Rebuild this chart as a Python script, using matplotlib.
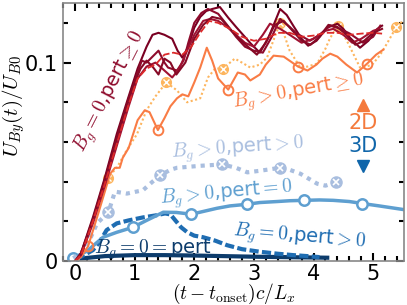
import numpy as np
import matplotlib
matplotlib.use("Agg")
import matplotlib.pyplot as plt
from matplotlib.ticker import MultipleLocator

plt.rcParams['mathtext.fontset'] = 'cm'
plt.rcParams['font.family'] = ['DejaVu Sans']

# ---- 2D, B_g = 0 runs (dark red bundle) ----
tA = [0, 0.1, 0.3, 0.5, 0.7, 0.9, 1.05, 1.2, 1.3, 1.4, 1.5, 1.63, 1.72, 1.8, 1.9, 2.0, 2.1, 2.2, 2.3, 2.43,
      2.57, 2.7, 2.8, 2.95, 3.1, 3.25, 3.44, 3.55, 3.66, 3.8, 3.91, 4.05, 4.23, 4.4, 4.5, 4.61, 4.78, 4.92, 5.07, 5.15]
yA = [0, 0.004, 0.022, 0.042, 0.064, 0.083, 0.097, 0.108, 0.114, 0.115, 0.114, 0.112, 0.106, 0.1025, 0.108,
      0.1176, 0.123, 0.126, 0.127, 0.128, 0.1226, 0.118, 0.1146, 0.1095, 0.105, 0.113, 0.127, 0.124, 0.1186,
      0.112, 0.1085, 0.111, 0.1176, 0.1196, 0.117, 0.1126, 0.1075, 0.111, 0.117, 0.1186]
tB = [0, 0.1, 0.3, 0.5, 0.7, 0.9, 1.05, 1.12, 1.2, 1.3, 1.4, 1.5, 1.56, 1.71, 1.82, 1.9, 2.0, 2.12, 2.23, 2.4,
      2.55, 2.7, 2.85, 3.0, 3.15, 3.3, 3.44, 3.6, 3.72, 3.94, 4.1, 4.28, 4.45, 4.61, 4.83, 5.0, 5.12]
yB = [0, 0.003, 0.020, 0.040, 0.061, 0.081, 0.095, 0.101, 0.100, 0.103, 0.106, 0.100, 0.0975, 0.096, 0.101,
      0.110, 0.120, 0.125, 0.127, 0.1246, 0.119, 0.113, 0.108, 0.106, 0.105, 0.113, 0.122, 0.118, 0.1146,
      0.111, 0.114, 0.1186, 0.117, 0.1146, 0.110, 0.113, 0.1186]
tC = [0, 0.1, 0.3, 0.5, 0.7, 0.9, 1.05, 1.2, 1.35, 1.5, 1.63, 1.75, 1.85, 2.0, 2.15, 2.27, 2.4, 2.55, 2.7,
      2.85, 3.0, 3.15, 3.27, 3.44, 3.6, 3.8, 4.0, 4.2, 4.33, 4.5, 4.65, 4.8, 5.0, 5.1]
yC = [0, 0.003, 0.019, 0.038, 0.058, 0.078, 0.092, 0.098, 0.100, 0.096, 0.0925, 0.097, 0.104, 0.114, 0.121,
      0.122, 0.121, 0.118, 0.114, 0.110, 0.108, 0.114, 0.1196, 0.117, 0.114, 0.110, 0.112, 0.116, 0.117,
      0.114, 0.110, 0.112, 0.116, 0.117]
tD = [0, 0.1, 0.3, 0.5, 0.7, 0.9, 1.0, 1.1, 1.2, 1.3, 1.4, 1.5, 1.6, 1.7, 1.85, 2.0, 2.15, 2.3, 2.45, 2.6,
      2.75, 2.9, 3.05, 3.2, 3.35, 3.5, 3.65, 3.8, 3.95, 4.1, 4.25, 4.4, 4.55, 4.7, 4.85, 5.0, 5.15]
yD = [0, 0.004, 0.021, 0.041, 0.062, 0.082, 0.090, 0.097, 0.101, 0.098, 0.094, 0.102, 0.100, 0.094, 0.100,
      0.112, 0.119, 0.123, 0.122, 0.117, 0.112, 0.108, 0.104, 0.110, 0.119, 0.121, 0.116, 0.111, 0.109,
      0.113, 0.119, 0.118, 0.114, 0.109, 0.111, 0.115, 0.117]
tE = [0, 0.1, 0.3, 0.5, 0.7, 0.9, 1.05, 1.2, 1.35, 1.5, 1.65, 1.8, 1.95, 2.1, 2.25, 2.4, 2.6, 2.8, 3.0, 3.2,
      3.4, 3.6, 3.8, 4.0, 4.2, 4.4, 4.6, 4.8, 5.0, 5.15]
yE = [0, 0.003, 0.020, 0.039, 0.059, 0.079, 0.092, 0.097, 0.099, 0.104, 0.105, 0.104, 0.108, 0.115, 0.121,
      0.120, 0.117, 0.113, 0.111, 0.112, 0.115, 0.115, 0.113, 0.1136, 0.115, 0.115, 0.114, 0.1146, 0.115, 0.1146]

# ---- 2D, B_g > 0 runs ----
t_or = [0, 0.1, 0.22, 0.4, 0.59, 0.67, 0.75, 0.8, 0.9, 1.05, 1.17, 1.25, 1.39, 1.5, 1.6, 1.71, 1.8, 1.9, 2.0,
        2.1, 2.21, 2.3, 2.4, 2.57, 2.73, 2.85, 2.94, 3.1, 3.2, 3.33, 3.5, 3.74, 3.9, 4.05, 4.15, 4.28, 4.4,
        4.55, 4.73, 4.9, 5.05, 5.17]
y_or = [0, 0.002, 0.0075, 0.025, 0.044, 0.047, 0.047, 0.052, 0.057, 0.071, 0.076, 0.075, 0.066, 0.072, 0.078,
        0.082, 0.084, 0.083, 0.090, 0.0975, 0.1075, 0.101, 0.092, 0.0864, 0.095, 0.094, 0.091, 0.094, 0.099,
        0.1035, 0.103, 0.098, 0.096, 0.099, 0.102, 0.1045, 0.103, 0.099, 0.095, 0.0995, 0.104, 0.1065]
t_or_m = [0.22, 1.39, 2.57, 3.74, 4.9]
y_or_m = [0.0075, 0.066, 0.0864, 0.098, 0.0995]

t_lo = [0.05, 0.2, 0.4, 0.55, 0.7, 0.85, 1.04, 1.2, 1.35, 1.53, 1.71, 1.88, 2.1, 2.23, 2.35, 2.48, 2.68, 2.8,
        2.94, 3.1, 3.22, 3.35, 3.44, 3.6, 3.78, 3.9, 4.06, 4.2, 4.28, 4.41, 4.56, 4.78, 4.9, 5.0, 5.12, 5.23,
        5.39, 5.5]
y_lo = [0, 0.012, 0.028, 0.042, 0.047, 0.055, 0.064, 0.076, 0.083, 0.090, 0.086, 0.080, 0.082, 0.0925, 0.097,
        0.097, 0.102, 0.100, 0.0975, 0.099, 0.1025, 0.113, 0.120, 0.106, 0.0975, 0.098, 0.0995, 0.107, 0.1125,
        0.1186, 0.111, 0.0975, 0.098, 0.0995, 0.104, 0.1095, 0.118, 0.121]
t_lo_m = [0.55, 1.53, 2.48, 3.44, 4.41, 5.39]
y_lo_m = [0.042, 0.090, 0.097, 0.120, 0.1186, 0.118]

# ---- 3D runs ----
t_lb = [-0.03, 0.1, 0.25, 0.37, 0.56, 0.67, 0.87, 1.14, 1.3, 1.43, 1.6, 1.71, 2.1, 2.47, 2.7, 2.89, 3.1, 3.44,
        3.6, 3.78, 4.06, 4.2, 4.38]
y_lb = [0.0015, 0.004, 0.011, 0.019, 0.0246, 0.035, 0.034, 0.0357, 0.040, 0.0432, 0.046, 0.047, 0.048, 0.0487,
        0.047, 0.0447, 0.0455, 0.047, 0.046, 0.044, 0.039, 0.038, 0.0397]
t_lb_m = [0.56, 1.43, 2.47, 3.44, 4.38]
y_lb_m = [0.0246, 0.0432, 0.0487, 0.047, 0.0397]

t_mb = [-0.03, 0.2, 0.47, 0.7, 0.97, 1.2, 1.48, 1.7, 1.95, 2.15, 2.38, 2.6, 2.88, 3.1, 3.39, 3.6, 3.84, 4.1,
        4.33, 4.6, 4.82, 5.1, 5.5]
y_mb = [0.0015, 0.005, 0.012, 0.0145, 0.017, 0.0205, 0.0246, 0.0245, 0.0236, 0.025, 0.0266, 0.0278, 0.0286,
        0.0295, 0.030, 0.0304, 0.0306, 0.0308, 0.0306, 0.0300, 0.029, 0.0278, 0.026]
t_mb_m = [-0.03, 0.97, 1.95, 2.88, 3.84, 4.82]
y_mb_m = [0.0015, 0.017, 0.0236, 0.0286, 0.0306, 0.029]

t_db = [0.02, 0.15, 0.3, 0.42, 0.53, 0.7, 0.9, 1.14, 1.35, 1.51, 1.6, 1.68, 1.78, 1.88, 2.0, 2.15, 2.35, 2.55,
        2.8, 3.1, 3.4, 3.66, 3.9, 4.1]
y_db = [0.001, 0.003, 0.0055, 0.010, 0.0156, 0.019, 0.0205, 0.022, 0.023, 0.024, 0.0235, 0.0206, 0.017, 0.0146,
        0.0128, 0.012, 0.0103, 0.008, 0.006, 0.0047, 0.0037, 0.003, 0.0025, 0.002]

t_nv = [0.0, 0.5, 1.0, 1.5, 2.0, 2.5, 3.0, 3.5, 4.0, 4.23]
y_nv = [0.001, 0.0025, 0.003, 0.003, 0.0028, 0.0025, 0.0022, 0.002, 0.0018, 0.0017]

c_dr = ['#7a0022', '#8e0b2c', '#a01232', '#860a26']
c_red = '#dc2a2a'
c_or = '#f97c45'
c_lo = '#fdb55e'
c_lb = '#a9bedf'
c_mb = '#5e9fd0'
c_db = '#1f6db2'
c_nv = '#0d3c6c'
c_2d = '#f47a3c'
c_3d = '#1066aa'

fig, ax = plt.subplots(figsize=(4.07, 3.05), dpi=100)
fig.subplots_adjust(left=0.155, right=0.993, bottom=0.144, top=0.99)

# 3D curves
ax.plot(t_nv, y_nv, color=c_nv, lw=3)
ax.plot(t_db, y_db, color=c_db, lw=3, ls=(0, (2.2, 0.8)))
ax.plot(t_mb, y_mb, color=c_mb, lw=2.5)
ax.plot(t_mb_m, y_mb_m, 'o', ms=7.5, mfc='white', mec=c_mb, mew=1.8, ls='none')
ax.plot(t_lb, y_lb, color=c_lb, lw=3, ls=(0, (1, 1.2)))
ax.plot(t_lb_m, y_lb_m, 'o', ms=8, color=c_lb, ls='none')
ax.plot(t_lb_m, y_lb_m, 'x', ms=4.5, mec='white', mew=1.2, ls='none')

# 2D curves
ax.plot(t_lo, y_lo, color=c_lo, lw=1.5, ls=(0, (1, 1.2)))
ax.plot(t_lo_m, y_lo_m, 'o', ms=7, color=c_lo, ls='none')
ax.plot(t_lo_m, y_lo_m, 'x', ms=4, mec='white', mew=1.0, ls='none')
ax.plot(t_or, y_or, color=c_or, lw=1.5)
ax.plot(t_or_m, y_or_m, 'o', ms=7, mfc='none', mec=c_or, mew=1.4, ls='none')
for t, y, c in zip([tA, tB, tC, tD], [yA, yB, yC, yD], c_dr):
    ax.plot(t, y, color=c, lw=1.5)
ax.plot(tE, yE, color=c_red, lw=1.3, ls=(0, (4, 1.5)))

# labels on curves
fs = 14
ax.text(0.6, 0.085, r'$B_g=0$,pert$\geq0$', color='#8e0b2c', fontsize=fs,
        rotation=63, ha='center', va='center', rotation_mode='anchor')
ax.text(3.75, 0.085, r'$B_g>0$,pert$\geq0$', color=c_or, fontsize=fs,
        rotation=10, ha='center', va='center', rotation_mode='anchor')
ax.text(2.72, 0.0563, r'$B_g>0$,pert$>0$', color=c_lb, fontsize=fs,
        rotation=4, ha='center', va='center', rotation_mode='anchor')
ax.text(2.53, 0.0337, r'$B_g>0$,pert$=0$', color=c_mb, fontsize=fs,
        rotation=5, ha='center', va='center', rotation_mode='anchor')
ax.text(3.76, 0.0116, r'$B_g=0$,pert$>0$', color=c_db, fontsize=fs,
        rotation=-5, ha='center', va='center', rotation_mode='anchor')
ax.text(1.3, 0.0055, r'$B_g=0=$pert', color=c_nv, fontsize=fs,
        ha='center', va='center')

ax.plot([4.83], [0.0784], '^', ms=8, color=c_2d)
ax.text(4.83, 0.0698, '2D', color=c_2d, fontsize=15, ha='center', va='center')
ax.text(4.83, 0.0578, '3D', color=c_3d, fontsize=15, ha='center', va='center')
ax.plot([4.83], [0.0477], 'v', ms=8, color=c_3d)

ax.set_xlim(-0.2, 5.52)
ax.set_ylim(0, 0.13)
ax.set_xticks([0, 1, 2, 3, 4, 5])
ax.set_yticks([0, 0.1])
ax.set_yticklabels(['0', '0.1'])
ax.xaxis.set_minor_locator(MultipleLocator(0.2))
ax.yaxis.set_minor_locator(MultipleLocator(0.02))
ax.tick_params(which='both', direction='in', top=True, right=True, labelsize=15, width=1.5)
ax.tick_params(which='major', length=6)
ax.tick_params(which='minor', length=3.5)
ax.tick_params(axis='x', pad=2)
for s in ax.spines.values():
    s.set_color('#888888')
    s.set_linewidth(1.2)

ax.set_xlabel(r'$(t-t_{\rm onset})c/L_x$', fontsize=14)
ax.set_ylabel(r'$U_{By}(t)/U_{B0}$', fontsize=15)
ax.xaxis.set_label_coords(0.5, -0.082)
ax.yaxis.set_label_coords(-0.107, 0.6)

fig.savefig('out.png', dpi=100)
